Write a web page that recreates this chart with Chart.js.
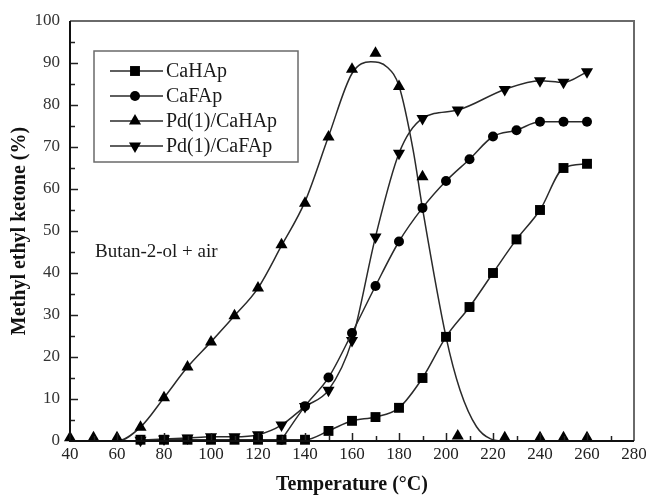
<!DOCTYPE html>
<html>
<head>
<meta charset="utf-8">
<script src="https://cdn.jsdelivr.net/npm/chart.js@4.4.1/dist/chart.umd.min.js"></script>
<style>
  body { margin: 0; background: #fff; }
  #wrap { width: 646px; height: 497px; }
</style>
</head>
<body>
<div id="wrap"><canvas id="myChart" width="646" height="497"></canvas></div>
<script>
// values
const caHApT = [70, 80, 90, 100, 110, 120, 130, 140, 150, 160, 170, 180, 190, 200, 210, 220, 230, 240, 250, 260];
const caHApY = [0.3, 0.3, 0.3, 0.3, 0.3, 0.3, 0.3, 0.3, 2.4, 4.8, 5.7, 7.9, 15, 24.8, 31.9, 40, 48, 55, 65, 66];

const caFApT = [130, 140, 150, 160, 170, 180, 190, 200, 210, 220, 230, 240, 250, 260];
const caFApY = [0.3, 8.3, 15.1, 25.7, 36.9, 47.5, 55.5, 61.9, 67.1, 72.5, 74, 76, 76, 76];

const pdHApT = [40, 50, 60, 70, 80, 90, 100, 110, 120, 130, 140, 150, 160, 170, 180, 190, 205, 225, 240, 250, 260];
const pdHApY = [0.8, 0.8, 0.8, 3.3, 10.3, 17.6, 23.6, 29.8, 36.4, 46.7, 56.6, 72.4, 88.5, 92.3, 84.4, 62.9, 1.2, 0.8, 0.8, 0.8, 0.8];
// the fitted curve drawn through the Pd(1)/CaHAp points
const pdHApCurveT = [40, 60, 70, 80, 90, 100, 110, 120, 130, 140, 150, 160, 168, 175, 180, 186, 190, 200, 206, 213, 219, 225, 260];
const pdHApCurveY = [0, 0, 3.3, 10.3, 17.6, 23.6, 29.8, 36.4, 46.5, 57, 72.5, 87.5, 90.3, 89, 84.5, 69.3, 55.4, 24.8, 12.1, 3.4, 0.5, 0, 0];

const pdFApT = [70, 80, 90, 100, 110, 120, 130, 140, 150, 160, 170, 180, 190, 205, 225, 240, 250, 260];
const pdFApY = [0.2, 0.5, 0.7, 1.0, 1.0, 1.5, 3.8, 8.2, 12.1, 23.9, 48.6, 68.5, 76.8, 78.8, 83.7, 85.8, 85.4, 87.9];

const seriesNames = ['CaHAp', 'CaFAp', 'Pd(1)/CaHAp', 'Pd(1)/CaFAp'];
const xTicks = {min: 40, max: 280, step: 20};
const yTicks = {min: 0, max: 100, step: 10};

const SERIF = '"Liberation Serif", "Times New Roman", serif';
const LINE = '#2a2a2a';

const toXY = (xs, ys) => xs.map((x, i) => ({x: x, y: ys[i]}));

// marker styles, also used by the legend
const markers = [
  {pointStyle: 'rect', rotation: 0, radius: 7},
  {pointStyle: 'circle', rotation: 0, radius: 5},
  {pointStyle: 'triangle', rotation: 0, radius: 7},
  {pointStyle: 'triangle', rotation: 180, radius: 7}
];

function drawMarker(ctx, m, x, y) { // small version of what chart.js does for pointStyle
  ctx.beginPath();
  if (m.pointStyle === 'circle') {
    ctx.arc(x, y, m.radius, 0, Math.PI * 2);
  } else if (m.pointStyle === 'rect') {
    const s = m.radius / Math.SQRT2;
    ctx.rect(x - s, y - s, 2 * s, 2 * s);
  } else {
    let rad = m.rotation * Math.PI / 180;
    ctx.moveTo(x + Math.sin(rad) * m.radius, y - Math.cos(rad) * m.radius);
    rad += 2 * Math.PI / 3;
    ctx.lineTo(x + Math.sin(rad) * m.radius, y - Math.cos(rad) * m.radius);
    rad += 2 * Math.PI / 3;
    ctx.lineTo(x + Math.sin(rad) * m.radius, y - Math.cos(rad) * m.radius);
    ctx.closePath();
  }
  ctx.fill();
}

function series(label, xs, ys, m, showLine) {
  return {
    label: label,
    data: toXY(xs, ys),
    showLine: showLine,
    borderColor: LINE,
    borderWidth: 1.5,
    backgroundColor: '#000',
    pointBackgroundColor: '#000',
    pointBorderColor: '#000',
    pointBorderWidth: 0,
    pointStyle: m.pointStyle,
    rotation: m.rotation,
    pointRadius: m.radius,
    cubicInterpolationMode: 'monotone',
    clip: false
  };
}

const datasets = [
  series(seriesNames[0], caHApT, caHApY, markers[0], true),
  series(seriesNames[1], caFApT, caFApY, markers[1], true),
  series(seriesNames[2], pdHApT, pdHApY, markers[2], false),
  series(seriesNames[3], pdFApT, pdFApY, markers[3], true),
  {
    label: 'Pd(1)/CaHAp curve',
    data: toXY(pdHApCurveT, pdHApCurveY),
    borderColor: LINE,
    borderWidth: 1.5,
    pointRadius: 0,
    cubicInterpolationMode: 'monotone',
    clip: false
  }
];

// frame + inner tick marks
const framePlugin = {
  id: 'frame',
  afterDatasetsDraw(chart) {
    const {ctx, chartArea: a, scales: {x, y}} = chart;
    ctx.save();
    ctx.strokeStyle = '#222';
    ctx.lineWidth = 1.5;
    for (let v = yTicks.min + 5; v < yTicks.max; v += 5) {
      const py = Math.round(y.getPixelForValue(v)) + 0.5;
      const len = v % 10 === 0 ? 8 : 5;
      ctx.beginPath(); ctx.moveTo(a.left, py); ctx.lineTo(a.left + len, py); ctx.stroke();
    }
    for (let v = xTicks.min + 10; v < xTicks.max; v += 10) {
      const px = Math.round(x.getPixelForValue(v)) + 0.5;
      const len = v % 20 === 0 ? 8 : 5;
      ctx.beginPath(); ctx.moveTo(px, a.bottom); ctx.lineTo(px, a.bottom - len); ctx.stroke();
    }
    ctx.lineWidth = 2;
    ctx.strokeStyle = '#6a6a6a';
    ctx.beginPath();
    ctx.moveTo(a.left, a.top); ctx.lineTo(a.right, a.top); ctx.lineTo(a.right, a.bottom);
    ctx.stroke();
    ctx.strokeStyle = '#111';
    ctx.beginPath();
    ctx.moveTo(a.left, a.top); ctx.lineTo(a.left, a.bottom); ctx.lineTo(a.right, a.bottom);
    ctx.stroke();
    ctx.restore();
  }
};

// boxed legend inside the plot + the "Butan-2-ol + air" note
const legendPlugin = {
  id: 'boxLegend',
  afterDraw(chart) {
    const {ctx, chartArea: a} = chart;
    const bx = a.left + 24, by = a.top + 30, bw = 204, bh = 111;
    ctx.save();
    ctx.strokeStyle = '#6a6a6a';
    ctx.lineWidth = 1.5;
    ctx.strokeRect(bx, by, bw, bh);
    ctx.font = '20px ' + SERIF;
    ctx.textBaseline = 'middle';
    ctx.fillStyle = '#1a1a1a';
    seriesNames.forEach((name, i) => {
      const ry = by + 20 + i * 25;
      ctx.strokeStyle = LINE;
      ctx.lineWidth = 1.5;
      ctx.beginPath(); ctx.moveTo(bx + 16, ry); ctx.lineTo(bx + 69, ry); ctx.stroke();
      ctx.fillStyle = '#000';
      drawMarker(ctx, markers[i], bx + 41, ry);
      ctx.fillStyle = '#1a1a1a';
      ctx.fillText(name, bx + 72, ry + 1);
    });
    ctx.font = '19px ' + SERIF;
    ctx.fillText('Butan-2-ol + air', a.left + 25, a.top + 231);
    ctx.restore();
  }
};

const config = {
  type: 'line',
  data: {datasets: datasets},
  options: {
    responsive: false,
    animation: false,
    layout: {padding: {top: 21, right: 12, bottom: 0, left: 0}},
    plugins: {
      legend: {display: false},
      tooltip: {enabled: false}
    },
    scales: {
      x: {
        type: 'linear',
        min: xTicks.min,
        max: xTicks.max,
        ticks: {stepSize: xTicks.step, color: '#222', padding: 3, font: {family: SERIF, size: 17}},
        grid: {display: false, drawTicks: false},
        border: {display: false},
        title: {display: true, text: 'Temperature (°C)', color: '#111',
                font: {family: SERIF, size: 20, weight: 'bold'}, padding: {top: 0, bottom: 0}},
        afterFit(scale) {
          scale.height = 56;
          scale.paddingRight = 0; // let the last label hang into the right margin
          scale.paddingLeft = 0;
        }
      },
      y: {
        type: 'linear',
        min: yTicks.min,
        max: yTicks.max,
        ticks: {stepSize: yTicks.step, color: '#333', padding: 10, font: {family: SERIF, size: 17}},
        grid: {display: false, drawTicks: false},
        border: {display: false},
        title: {display: true, text: 'Methyl ethyl ketone (%)', color: '#111',
                font: {family: SERIF, size: 20, weight: 'bold'}, padding: {top: 8, bottom: 0}},
        afterFit(scale) { scale.width = 70; }
      }
    }
  },
  plugins: [framePlugin, legendPlugin]
};

const myChart = new Chart(document.getElementById('myChart'), config);
</script>
</body>
</html>
